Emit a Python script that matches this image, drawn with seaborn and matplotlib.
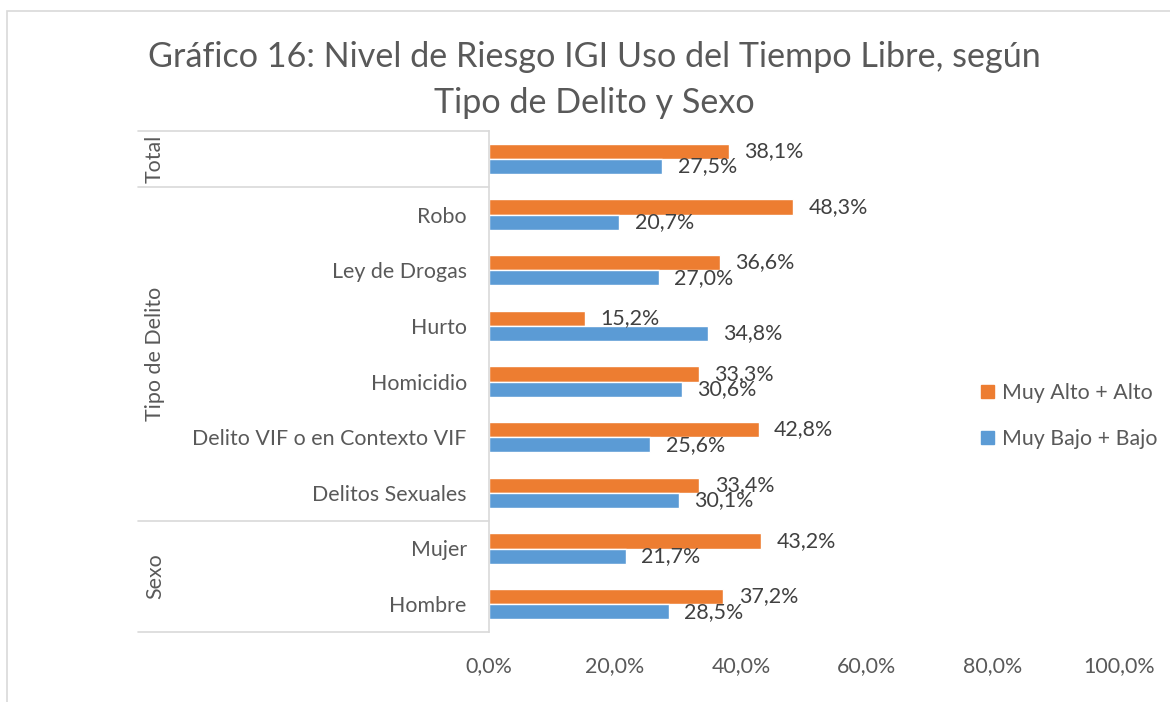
import matplotlib
matplotlib.use("Agg")
import matplotlib.pyplot as plt
import matplotlib.patches as mpatches
import seaborn as sns
import pandas as pd

categories = ["Total", "Robo", "Ley de Drogas", "Hurto", "Homicidio",
              "Delito VIF o en Contexto VIF", "Delitos Sexuales", "Mujer", "Hombre"]
cat_labels = ["", "Robo", "Ley de Drogas", "Hurto", "Homicidio",
              "Delito VIF o en Contexto VIF", "Delitos Sexuales", "Mujer", "Hombre"]
alto = [38.1, 48.3, 36.6, 15.2, 33.3, 42.8, 33.4, 43.2, 37.2]
bajo = [27.5, 20.7, 27.0, 34.8, 30.6, 25.6, 30.1, 21.7, 28.5]
series_names = ["Muy Alto + Alto", "Muy Bajo + Bajo"]
groups = [("Total", 0, 0), ("Tipo de Delito", 1, 6), ("Sexo", 7, 8)]
x_ticks = [0, 20, 40, 60, 80, 100]
title = "Gráfico 16: Nivel de Riesgo IGI Uso del Tiempo Libre, según\nTipo de Delito y Sexo"

df = pd.DataFrame({
    "cat": categories * 2,
    "val": alto + bajo,
    "serie": [series_names[0]] * len(categories) + [series_names[1]] * len(categories),
})

sns.set_theme(style="white")
plt.rcParams["font.family"] = ["Lato", "DejaVu Sans"]
TXT = "#595959"
FS = 15.4

W, H = 1170, 702
fig = plt.figure(figsize=(W / 100, H / 100), dpi=100)
ax = fig.add_axes([489 / W, 1 - 632 / H, (1119 - 489) / W, (632 - 131) / H])

colors = {"Muy Alto + Alto": "#ED7D31", "Muy Bajo + Bajo": "#5B9BD5"}
sns.barplot(data=df, y="cat", x="val", hue="serie", order=categories,
            hue_order=series_names, palette=colors, orient="h", width=0.55,
            saturation=1, edgecolor="white", linewidth=1.0, ax=ax, legend=False)

ax.set_xlim(0, 100)
ax.set_ylim(len(categories) - 0.5, -0.5)
ax.set_xlabel("")
ax.set_ylabel("")
ax.set_xticks(x_ticks)
ax.set_xticklabels([f"{v:.1f}%".replace(".", ",") for v in x_ticks], fontsize=FS, color=TXT)
ax.set_yticks(range(len(categories)))
ax.set_yticklabels(cat_labels)
ax.tick_params(axis="x", length=0, pad=17)
ax.tick_params(axis="y", length=0, pad=16, labelsize=FS, labelcolor=TXT)
for s in ["top", "right", "bottom"]:
    ax.spines[s].set_visible(False)
ax.spines["left"].set_color("#d9d9d9")
ax.spines["left"].set_linewidth(1.2)

# data labels
for cont, vals in zip(ax.containers, [alto, bajo]):
    for rect, v in zip(cont, vals):
        y = rect.get_y() + rect.get_height() / 2
        ax.annotate(f"{v:.1f}%".replace(".", ","), xy=(rect.get_width(), y),
                    xytext=(11, 0), textcoords="offset points", ha="left",
                    va="center", fontsize=FS, color="#404040")

# group separators and labels
tr = ax.get_yaxis_transform()
xl = (138 - 489) / (1119 - 489)
for yb in [-0.5, 0.5, 6.5, 8.5]:
    ax.plot([xl, 0], [yb, yb], transform=tr, color="#d9d9d9", lw=1.2, clip_on=False)
xg = (155 - 489) / (1119 - 489)
for name, a, b in groups:
    ax.text(xg, (a + b) / 2, name, transform=tr, rotation=90, ha="center",
            va="center", fontsize=FS, color=TXT)

# legend
handles = [mpatches.Patch(color=colors[n], label=n) for n in series_names]
fig.legend(handles=handles, loc="center left", bbox_to_anchor=(962 / W, 1 - 416 / H),
           frameon=False, fontsize=FS, labelcolor=TXT, handlelength=0.6,
           handleheight=0.6, handletextpad=0.35, labelspacing=1.2)

fig.text(594 / W, 1 - 80 / H, title, ha="center", va="center", fontsize=24.6,
         color=TXT, linespacing=1.55)

fig.patches.append(mpatches.Rectangle((7 / W, -0.1), 1.2, 1.1 - 11 / H,
                                      transform=fig.transFigure, fill=False,
                                      edgecolor="#d9d9d9", lw=1.2))

fig.savefig("out.png", dpi=100, facecolor="white")
